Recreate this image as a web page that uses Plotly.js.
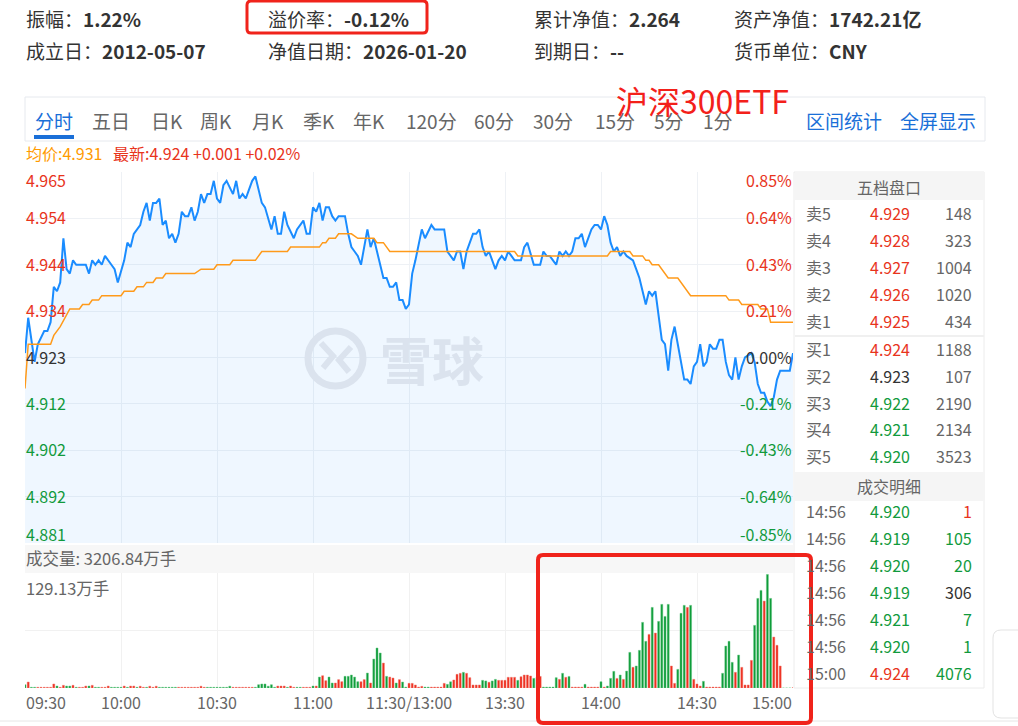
<!DOCTYPE html>
<html><head><meta charset="utf-8">
<script src="https://cdn.plot.ly/plotly-3.0.1.min.js"></script>
<style>html,body{margin:0;padding:0;background:#fff;}#chart{width:1018px;height:726px;}</style>
</head><body><div id="chart"></div>
<script>
// ---------------- DATA ----------------
const prevClose = 4.923;
const halfRange = 0.042;
const priceT = [0,1,3,4,6,7,8,9,10,11,12,13,14,15,16,19,20,21,22,23,24,25,27,28,29,31,32,33,34,35,36,37,38,39,40,41,42,43,44,45,46,47,48,49,50,51,52,53,54,55,56,57,58,59,60,61,62,63,65,66,67,68,69,70,71,72,73,74,75,77,78,79,80,81,82,84,85,86,87,88,89,90,91,92,93,94,95,96,97,98,100,101,102,103,104,105,106,107,108,109,110,111,112,113,114,115,116,117,118,119,120,121,122,124,125,127,128,131,132,134,135,136,137,138,140,141,142,143,144,145,147,148,149,150,151,152,153,155,156,157,159,161,162,163,164,165,166,167,168,169,170,171,172,173,174,175,176,177,178,179,180,181,182,183,184,185,186,187,188,190,191,192,193,194,195,196,197,198,199,200,201,202,203,204,205,206,207,208,209,210,211,212,213,214,215,216,217,218,219,220,221,222,223,224,225,227,228,229,230,231,232,233,234,235,236,239,240];
const priceV = [4.924,4.932,4.922,4.926,4.929,4.929,4.931,4.939,4.938,4.940,4.950,4.943,4.942,4.945,4.944,4.944,4.942,4.945,4.944,4.945,4.944,4.946,4.944,4.943,4.940,4.945,4.949,4.948,4.951,4.952,4.953,4.956,4.958,4.954,4.958,4.958,4.959,4.953,4.954,4.950,4.951,4.949,4.951,4.956,4.955,4.955,4.957,4.954,4.956,4.960,4.958,4.960,4.960,4.963,4.959,4.958,4.962,4.963,4.960,4.963,4.959,4.960,4.959,4.961,4.963,4.964,4.961,4.958,4.957,4.952,4.955,4.951,4.951,4.956,4.953,4.950,4.952,4.953,4.954,4.951,4.951,4.957,4.956,4.958,4.954,4.957,4.957,4.955,4.954,4.955,4.955,4.951,4.948,4.947,4.946,4.944,4.948,4.952,4.948,4.950,4.947,4.944,4.941,4.941,4.939,4.939,4.940,4.936,4.936,4.934,4.935,4.942,4.945,4.952,4.950,4.953,4.952,4.952,4.947,4.945,4.947,4.947,4.943,4.947,4.951,4.951,4.952,4.948,4.946,4.947,4.943,4.945,4.946,4.945,4.947,4.946,4.945,4.945,4.948,4.949,4.944,4.944,4.947,4.946,4.946,4.945,4.944,4.947,4.946,4.947,4.946,4.947,4.950,4.950,4.951,4.948,4.950,4.952,4.953,4.953,4.952,4.955,4.953,4.949,4.947,4.948,4.946,4.947,4.946,4.945,4.943,4.941,4.938,4.935,4.938,4.937,4.938,4.933,4.927,4.926,4.920,4.927,4.930,4.926,4.922,4.918,4.918,4.917,4.921,4.922,4.926,4.921,4.922,4.926,4.925,4.925,4.927,4.927,4.922,4.919,4.918,4.923,4.918,4.921,4.923,4.924,4.922,4.917,4.915,4.915,4.913,4.912,4.914,4.918,4.920,4.920,4.924];
const avgT = [0,1,8,9,11,14,17,18,20,21,23,24,30,31,34,35,37,38,40,41,43,44,53,55,59,60,64,65,72,74,82,83,92,93,94,95,97,98,102,104,109,110,112,113,114,153,154,182,183,189,190,193,194,195,196,198,199,201,204,206,208,219,220,223,224,229,230,232,233,240];
const avgV = [4.916,4.926,4.926,4.928,4.930,4.934,4.934,4.935,4.935,4.936,4.936,4.937,4.937,4.938,4.938,4.939,4.939,4.940,4.940,4.941,4.941,4.942,4.942,4.943,4.943,4.944,4.944,4.945,4.945,4.947,4.947,4.948,4.948,4.949,4.949,4.950,4.950,4.951,4.951,4.950,4.950,4.949,4.949,4.948,4.947,4.947,4.946,4.946,4.947,4.947,4.946,4.946,4.945,4.945,4.944,4.944,4.943,4.941,4.941,4.939,4.937,4.937,4.936,4.936,4.935,4.935,4.934,4.934,4.931,4.931];
const volume = [
 3.7,6.7,0.8,0.8,0.8,0.8,0.8,0.8,0.8,4.5,
 2.2,0.8,3,2.2,2.2,3,0.8,0.8,0.8,2.2,
 2.2,3,0.8,0.8,0.8,0.8,2.2,0.8,0.8,0.8,
 0.8,2.2,0.8,2.2,2.2,0.8,2,0.8,0.8,2,
 0.8,2,0.8,0.8,0.8,0.8,0.8,0.8,0.8,0.8,
 0.8,0.8,0.8,0.8,0.8,2,0.8,0.8,0.8,0.8,
 0.8,0.8,0.8,0.8,2,0.8,0.8,0.8,0.8,0.8,
 0.8,0.8,0.8,3.7,4.5,4.5,2,3.7,0.8,2.2,
 2.2,2.2,0.8,2.2,0.8,0.8,0.8,0.8,0.8,0.8,
 2.2,2.2,12.3,13.8,8.2,12.3,5.6,5.6,9.4,7.1,
 13.1,13.1,14.6,12.3,7.1,7.1,9.4,16.8,5.6,32.5,
 44.9,39.3,28,13.1,12.3,11.2,5.6,9.4,6.7,1,
 5.2,5.2,3.4,1,1.9,1,1,1,1,1,
 1,5.2,4.1,7,9,15.3,16.5,17.6,16.5,11.6,
 3.4,3.4,3.4,8.6,7.9,6.4,7.9,9.7,8.6,8.6,
 8.6,12,12,12,8.6,12.7,14.6,14.6,13.5,10.8,
 12,13,1,1,1,1,11.6,9.7,16.5,12,
 13,1,1,1,1,4.1,1,1,1,1,
 7.1,1,2.2,10.8,18.7,10.8,14.6,9.7,19,40,
 23.2,24.7,42.3,73.7,52.4,60.2,90.5,61.7,74.8,93.9,
 80.4,93.9,24.7,5.2,20.9,83.8,92.8,90.5,92.8,9.7,
 4.5,2.2,7.5,1,1,1,1,1,16.5,47.1,
 52.4,28.8,17.6,37,23.2,3.4,3.4,31,70.3,100.6,
 109.6,97.6,127.5,100.6,57.2,47.9,24.7,0,0,0,
 0.4];
const volDir = ("grggrrrrrr"+"grrggrgrrr"+"grggrrrggg"+"grgrrgrrgr"+"rrggggggrr"+"rrrrrrrggg"+"gggggrrrrr"+"rrgggggggr"+"rrgrrggrrr"+"grgrrggrrr"+"gggggrrgrg"+"ggrgrrgrgg"+"rrrrrggrrr"+"rrggrrrgrr"+"rrrggrggrr"+"rrrrgrrrrg"+"grgggggrgr"+"grrrrgrrrr"+"grgggrgrgg"+"rggggrgrgg"+"ggrrgggrgr"+"rrgrrrrrgg"+"ggrgrrrrgg"+"grggrrrggg"+"r").split('');
const volMax = 129.13;
const volTotal = "3206.84万手";
const leftLabels = ['4.965','4.954','4.944','4.934','4.923','4.912','4.902','4.892','4.881'];
const rightLabels = ['0.85%','0.64%','0.43%','0.21%','0.00%','-0.21%','-0.43%','-0.64%','-0.85%'];
const timeTicks = [0,30,60,90,120,150,180,210,240];
const timeLabels = ['09:30','10:00','10:30','11:00','11:30/13:00','13:30','14:00','14:30','15:00'];
const headerLabels = [['振幅','溢价率','累计净值','资产净值'],['成立日','净值日期','到期日','货币单位']];
const headerValues = [['1.22%','-0.12%','2.264','1742.21亿'],['2012-05-07','2026-01-20','--','CNY']];
const tabNames = ['分时','五日','日K','周K','月K','季K','年K','120分','60分','30分','15分','5分','1分'];
const linkNames = ['区间统计','全屏显示'];
const chartTitle = '沪深300ETF';
const avgText = '均价:4.931';
const lastText = '最新:4.924 +0.001 +0.02%';
const bookLabels = ['卖5','卖4','卖3','卖2','卖1','买1','买2','买3','买4','买5'];
const bookPrices = ['4.929','4.928','4.927','4.926','4.925','4.924','4.923','4.922','4.921','4.920'];
const bookVols = ['148','323','1004','1020','434','1188','107','2190','2134','3523'];
const tradeTimes = ['14:56','14:56','14:56','14:56','14:56','14:56','15:00'];
const tradePrices = ['4.920','4.919','4.920','4.919','4.921','4.920','4.924'];
const tradeVols = ['1','105','20','306','7','1','4076'];
const tradeSide = ['b','s','s','n','s','s','s'];

// ---------------- LAYOUT HELPERS ----------------
const W = 1018, H = 726;
const FONT = 'Noto Sans CJK SC, Noto Sans, sans-serif';
const RED = '#e8341c', GREEN = '#119a3c', DARK = '#333333', GRAY = '#666666', BLUE = '#1a6fd8';
const PX = v => v / W, PY = v => 1 - v / H;
const ann = [];
function txt(x, y, text, size, color, anchor, extra) {
  ann.push(Object.assign({xref:'paper', yref:'paper', x:PX(x), y:PY(y), text:text, showarrow:false,
    xanchor:anchor||'left', yanchor:'middle', borderpad:0,
    font:{family:FONT, size:size, color:color}}, extra||{}));
}
function rr(x0, y0, x1, y1, r) {
  const X = v => PX(v).toFixed(5), Y = v => PY(v).toFixed(5);
  return `M ${X(x0+r)} ${Y(y0)} L ${X(x1-r)} ${Y(y0)} Q ${X(x1)} ${Y(y0)} ${X(x1)} ${Y(y0+r)} L ${X(x1)} ${Y(y1-r)} Q ${X(x1)} ${Y(y1)} ${X(x1-r)} ${Y(y1)} L ${X(x0+r)} ${Y(y1)} Q ${X(x0)} ${Y(y1)} ${X(x0)} ${Y(y1-r)} L ${X(x0)} ${Y(y0+r)} Q ${X(x0)} ${Y(y0)} ${X(x0+r)} ${Y(y0)} Z`;
}
const shapes = [];
function rect(x0, y0, x1, y1, fill, line, lw, layer) {
  shapes.push({type:'rect', xref:'paper', yref:'paper', x0:PX(x0), x1:PX(x1), y0:PY(y0), y1:PY(y1),
    fillcolor:fill||'rgba(0,0,0,0)', line:{color:line||'rgba(0,0,0,0)', width:lw||0}, layer:layer||'below'});
}
function hline(x0, x1, y, color, w) {
  shapes.push({type:'line', xref:'paper', yref:'paper', x0:PX(x0), x1:PX(x1), y0:PY(y), y1:PY(y), line:{color:color, width:w}, layer:'below'});
}
function pathShape(p, color, w, fill, layer) {
  shapes.push({type:'path', xref:'paper', yref:'paper', path:p, line:{color:color, width:w}, fillcolor:fill||'rgba(0,0,0,0)', layer:layer||'above'});
}

// header rows
const colX = [25, 267, 533, 733], rowY = [18, 50];
headerLabels.forEach((row, r) => row.forEach((lab, c) => {
  txt(colX[c], rowY[r], lab + '：<b>' + headerValues[r][c] + '</b>', 19, DARK);
}));
pathShape(rr(247, 1, 427, 33, 4), '#f0231b', 3);

// tabs
rect(25, 97, 985, 141, '#ffffff', '#e6e9ee', 1);
const tabX = [34, 91, 150, 199, 251, 302, 352, 405, 473, 532, 594, 653, 702];
tabNames.forEach((t, i) => txt(tabX[i], 120, t, 19, i === 0 ? BLUE : GRAY));
rect(34, 135, 74, 139, BLUE, BLUE, 0);
const linkX = [805, 899];
linkNames.forEach((t, i) => txt(linkX[i], 120, t, 19, BLUE));
txt(615, 100, chartTitle, 32, '#f3201a');

// info line
txt(25, 153, avgText, 16, '#ff9a00');
txt(112, 153, lastText, 16, RED);

// price axis labels
const levels = leftLabels.map((_, k) => prevClose + halfRange * (4 - k) / 4);
leftLabels.forEach((t, k) => {
  const col = k < 4 ? RED : (k === 4 ? DARK : GREEN);
  const ya = k === 0 ? 'top' : (k === 8 ? 'bottom' : 'middle');
  const ys = k === 0 ? 5 : (k === 8 ? -4 : 1);
  ann.push({xref:'paper', yref:'y', x:PX(25), y:levels[k], text:t, showarrow:false, xanchor:'left', yanchor:ya,
    yshift: ys, borderpad:0, font:{family:FONT, size:16, color:col}});
  ann.push({xref:'paper', yref:'y', x:PX(793), y:levels[k], text:rightLabels[k], showarrow:false, xanchor:'right', yanchor:ya,
    yshift: ys, borderpad:0, font:{family:FONT, size:16, color:col}});
});

// watermark
shapes.push({type:'circle', xref:'paper', yref:'paper', x0:PX(308), x1:PX(363), y0:PY(331), y1:PY(386), line:{color:'#dbe3ee', width:7}, layer:'above'});
pathShape(`M ${PX(321)} ${PY(343)} L ${PX(333)} ${PY(356)} L ${PX(323)} ${PY(368)}`, '#dbe3ee', 6);
pathShape(`M ${PX(351)} ${PY(347)} L ${PX(339)} ${PY(360)} L ${PX(349)} ${PY(372)}`, '#dbe3ee', 6);
txt(432, 358, '<b>雪球</b>', 52, '#dbe3ee', 'center');

// volume header band
rect(25, 545, 793, 573, '#f7f7f7', null, 0);
txt(25, 558, '成交量: ' + volTotal, 16.5, GRAY);
txt(25, 588, volMax.toFixed(2) + '万手', 16.5, GRAY);

// time labels
timeTicks.forEach((t, i) => {
  ann.push({xref:'x2', yref:'paper', x:t, y:PY(702), text:timeLabels[i], showarrow:false,
    xanchor: i === 0 ? 'left' : (i === timeTicks.length - 1 ? 'right' : 'center'), yanchor:'middle', borderpad:0,
    font:{family:FONT, size:16, color:GRAY}});
});

// right panel
rect(794, 172, 984, 688, 'rgba(0,0,0,0)', '#ececec', 1);
rect(795, 172, 984, 200, '#f5f5f5', null, 0);
txt(889, 187, '五档盘口', 16, GRAY, 'center');
const bookY = [213, 240, 267, 294, 321, 349, 376, 403, 429, 456];
hline(795, 984, 336, '#f0f0f0', 2);
bookLabels.forEach((l, i) => {
  const p = parseFloat(bookPrices[i]);
  const col = p > prevClose ? RED : (p < prevClose ? GREEN : DARK);
  txt(805, bookY[i], l, 16, GRAY);
  txt(869, bookY[i], bookPrices[i], 16, col);
  txt(973, bookY[i], bookVols[i], 16, GRAY, 'right');
});
rect(795, 472, 984, 501, '#f5f5f5', null, 0);
txt(889, 486, '成交明细', 16, GRAY, 'center');
const tradeY = [511, 538, 565, 592, 619, 646, 673];
tradeTimes.forEach((t, i) => {
  const p = parseFloat(tradePrices[i]);
  const col = p > prevClose ? RED : (p < prevClose ? GREEN : DARK);
  const vcol = tradeSide[i] === 'b' ? RED : (tradeSide[i] === 's' ? GREEN : DARK);
  txt(805, tradeY[i], t, 16, GRAY);
  txt(869, tradeY[i], tradePrices[i], 16, col);
  txt(973, tradeY[i], tradeVols[i], 16, vcol, 'right');
});

// misc
hline(0, 1018, 721, '#e6e6e6', 1);
pathShape(rr(993, 630, 1040, 718, 8), '#e3e3e3', 1);
pathShape(rr(538, 555, 811, 723, 5), '#f0231b', 4);

// ---------------- TRACES ----------------
const idx = volume.map((_, i) => i);
const traces = [
  {x: priceT, y: priceV, type:'scatter', mode:'lines', xaxis:'x', yaxis:'y',
   line:{color:'#1a8cff', width:2}, fill:'tozeroy', fillcolor:'rgba(26,140,255,0.07)', hoverinfo:'skip'},
  {x: avgT, y: avgV, type:'scatter', mode:'lines', xaxis:'x', yaxis:'y',
   line:{color:'#ff9a1a', width:1.5}, hoverinfo:'skip'},
  {x: idx, y: volume, type:'bar', xaxis:'x2', yaxis:'y2', width:0.62,
   marker:{color: volDir.map(d => d === 'r' ? '#ee2a1a' : '#0b9a36'),
           line:{color: volDir.map(d => d === 'r' ? 'rgba(240,120,110,0.8)' : 'rgba(100,200,130,0.8)'), width:0.6}},
   hoverinfo:'skip'}
];

const gx = {range:[0,240], tickvals:timeTicks, showgrid:true, gridcolor:'#eef1f5', gridwidth:1,
  showticklabels:false, zeroline:false, showline:false, ticks:'', fixedrange:true};
const layout = {
  width: W, height: H, margin:{l:0, r:0, t:0, b:0}, paper_bgcolor:'#ffffff', plot_bgcolor:'#ffffff',
  showlegend:false, bargap:0,
  xaxis: Object.assign({}, gx, {domain:[PX(25), PX(793)], anchor:'y'}),
  yaxis: {domain:[PY(543), PY(172)], range:[prevClose - halfRange, prevClose + halfRange], tickvals:levels,
    showgrid:true, gridcolor:'#eef1f5', showticklabels:false, zeroline:false, ticks:'', anchor:'x', fixedrange:true},
  xaxis2: Object.assign({}, gx, {domain:[PX(25), PX(793)], anchor:'y2', gridcolor:'#f1f1f1'}),
  yaxis2: {domain:[PY(688), PY(573)], range:[0, volMax], tickvals:[0, volMax/2, volMax],
    showgrid:true, gridcolor:'#f1f1f1', showticklabels:false, zeroline:false, ticks:'', anchor:'x2', fixedrange:true},
  shapes: shapes,
  annotations: ann
};
Plotly.newPlot('chart', traces, layout, {staticPlot:true, displayModeBar:false});
</script>
</body></html>
